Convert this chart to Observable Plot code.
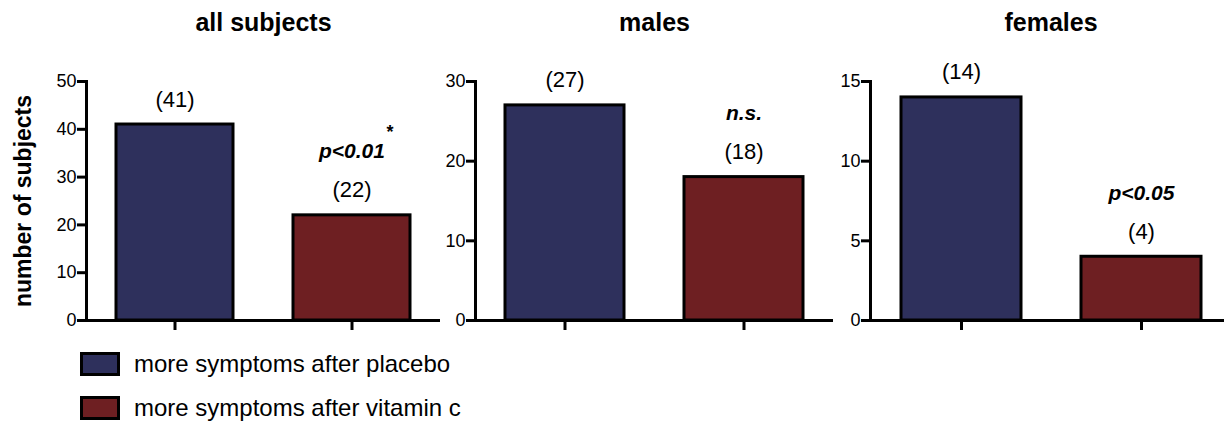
<!DOCTYPE html>
<html>
<head>
<meta charset="utf-8">
<script src="https://cdn.jsdelivr.net/npm/d3@7"></script>
<script src="https://cdn.jsdelivr.net/npm/@observablehq/plot@0.6"></script>
<style>
  html, body { margin: 0; padding: 0; background: #fff; }
  body { width: 1224px; height: 424px; overflow: hidden; position: relative;
         font-family: "Liberation Sans", Arial, sans-serif; color: #000; }
  #charts { position: absolute; left: 0; top: 0; width: 1224px; height: 340px; }
  #charts > div { position: absolute; top: 0; }
  #charts svg { max-width: none !important; }
  #legend { position: absolute; left: 80px; top: 352px; }
  .row { display: flex; align-items: center; height: 24px; margin-bottom: 20px; }
  .sw { width: 34px; height: 18px; border: 3px solid #000; margin-right: 14px; }
  .lab { font-size: 24px; line-height: 24px; }
</style>
</head>
<body>
<div id="charts"></div>
<div id="legend"></div>
<script>
// ---- data ----
const groups = ["all subjects", "males", "females"];
const conditions = ["more symptoms after placebo", "more symptoms after vitamin c"];
const placebo = [41, 27, 14];
const vitaminC = [22, 18, 4];
const pLabels = ["p<0.01", "n.s.", "p<0.05"];
const pStars = ["*", "", ""];
const yMax = [50, 30, 15];
const yStep = [10, 10, 5];
const colors = ["#2e305c", "#6e1f22"];

// ---- layout ----
const panelLeft = [0, 440, 833];
const panelWidth = [440, 393, 398];
const panelMarginLeft = [86, 35, 37];

const charts = document.getElementById("charts");

groups.forEach((g, i) => {
  const rows = [
    {condition: conditions[0], value: placebo[i]},
    {condition: conditions[1], value: vitaminC[i]}
  ];
  const pRow = [{condition: conditions[1], value: vitaminC[i], p: pLabels[i], star: pStars[i]}];
  const marks = [
    Plot.barY(rows, {x: "condition", y: "value", fill: "condition", stroke: "#000", strokeWidth: 3,
                     insetLeft: 30, insetRight: 30}),
    Plot.axisY({ticks: d3.range(0, yMax[i] + 1, yStep[i]), tickSize: 9, tickPadding: 1,
                fontSize: 18, stroke: "#000", strokeWidth: 3, label: null}),
    Plot.axisX({tickSize: 10, stroke: "#000", strokeWidth: 3, tickFormat: () => "", label: null}),
    Plot.ruleY([0], {stroke: "#000", strokeWidth: 3}),
    Plot.frame({anchor: "left", stroke: "#000", strokeWidth: 3}),
    Plot.text(rows, {x: "condition", y: "value", text: d => `(${d.value})`, dy: -25, fontSize: 22}),
    Plot.text(pRow, {x: "condition", y: "value", text: "p", dy: -64, fontSize: 21,
                     fontWeight: "bold", fontStyle: "italic"}),
    Plot.text(pRow, {x: "condition", y: "value", text: "star", dy: -83, dx: 38, fontSize: 18,
                     fontWeight: "bold"}),
    Plot.text([g], {frameAnchor: "top", text: d => d, lineAnchor: "middle", dy: -59,
                    fontSize: 25, fontWeight: "bold"})
  ];
  if (i === 0) {
    marks.push(Plot.text(["number of subjects"], {frameAnchor: "left", text: d => d, rotate: -90,
                textAnchor: "middle", lineAnchor: "middle", dx: -63, fontSize: 23, fontWeight: "bold"}));
  }
  const chart = Plot.plot({
    width: panelWidth[i],
    height: 340,
    marginTop: 81,
    marginBottom: 20,
    marginLeft: panelMarginLeft[i],
    marginRight: 0,
    style: {fontFamily: "'Liberation Sans', Arial, sans-serif", color: "#000",
            background: "transparent", overflow: "visible", maxWidth: "none"},
    x: {domain: conditions, padding: 0, axis: null},
    y: {domain: [0, yMax[i]], axis: null},
    color: {domain: conditions, range: colors},
    marks
  });
  const wrap = document.createElement("div");
  wrap.style.left = panelLeft[i] + "px";
  wrap.style.width = panelWidth[i] + "px";
  wrap.appendChild(chart);
  charts.appendChild(wrap);
});

// ---- legend ----
const legend = document.getElementById("legend");
conditions.forEach((c, k) => {
  const row = document.createElement("div");
  row.className = "row";
  const sw = document.createElement("div");
  sw.className = "sw";
  sw.style.background = colors[k];
  const lab = document.createElement("span");
  lab.className = "lab";
  lab.textContent = c;
  row.appendChild(sw);
  row.appendChild(lab);
  legend.appendChild(row);
});
</script>
</body>
</html>
